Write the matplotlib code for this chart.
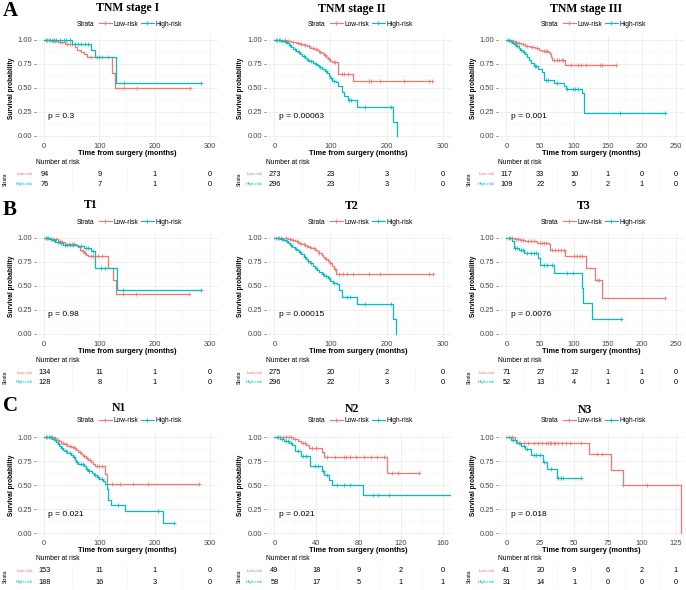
#!/usr/bin/env python3
"""Kaplan-Meier curves (low- vs high-risk) by TNM stage, T and N, 3x3 grid
with number-at-risk tables, redrawn with matplotlib."""
import numpy as np
import matplotlib
matplotlib.use("Agg")
import matplotlib.pyplot as plt
from matplotlib.lines import Line2D
from matplotlib.transforms import blended_transform_factory

plt.rcParams["font.family"] = ["Liberation Sans", "DejaVu Sans"]

W, H = 686, 590
LOW_COL, HIGH_COL = "#F8766D", "#00BFC4"

# ---- data ----------------------------------------------------------------
# A1  TNM stage I
a1_low_t = [0, 12, 25, 38, 55, 60, 66, 72, 78, 123, 129, 264]
a1_low_s = [1.0, 0.99, 0.975, 0.96, 0.93, 0.90, 0.87, 0.85, 0.82, 0.66, 0.50, 0.50]
a1_low_cens = [5, 10, 16, 20, 28, 33, 42, 46, 50, 84, 95, 105, 115, 144, 168, 264]
a1_high_t = [0, 50, 84, 92, 130, 285]
a1_high_s = [1.0, 0.96, 0.90, 0.82, 0.55, 0.55]
a1_high_cens = [3, 8, 14, 18, 22, 28, 35, 40, 46, 56, 62, 66, 74, 80, 100, 144, 285]
a1_breaks = [0, 100, 200, 300]
a1_low_risk = [94, 9, 1, 0]
a1_high_risk = [76, 7, 1, 0]

# A2  TNM stage II
a2_low_t = [0, 15, 22, 30, 38, 45, 52, 58, 64, 70, 76, 80, 84, 88, 92, 96, 100,
            103, 114, 141, 281]
a2_low_s = [1.0, 0.995, 0.985, 0.975, 0.965, 0.955, 0.945, 0.935, 0.92, 0.91,
            0.895, 0.88, 0.86, 0.84, 0.82, 0.80, 0.78, 0.77, 0.65, 0.57, 0.57]
a2_low_cens = [5, 10, 18, 25, 33, 42, 48, 55, 62, 68, 74, 82, 90, 98, 106, 108,
               120, 125, 132, 168, 172, 188, 232, 276, 281]
a2_high_t = [0, 12, 18, 22, 26, 30, 34, 38, 42, 46, 50, 54, 58, 62, 68, 72, 76,
             80, 85, 90, 94, 97, 100, 103, 110, 114, 120, 125, 131, 148, 211, 218]
a2_high_s = [1.0, 0.99, 0.98, 0.965, 0.95, 0.93, 0.91, 0.89, 0.87, 0.855, 0.835,
             0.815, 0.795, 0.78, 0.765, 0.75, 0.735, 0.72, 0.70, 0.68, 0.66, 0.63,
             0.60, 0.575, 0.565, 0.52, 0.46, 0.42, 0.38, 0.30, 0.15, 0.0]
a2_high_cens = [3, 8, 14, 20, 28, 36, 44, 52, 60, 66, 74, 82, 92, 101, 107, 133,
                137, 162, 208]
a2_breaks = [0, 100, 200, 300]
a2_low_risk = [273, 23, 3, 0]
a2_high_risk = [296, 23, 3, 0]

# A3  TNM stage III
a3_low_t = [0, 8, 12, 16, 22, 28, 35, 42, 48, 52, 62, 64, 66, 68, 86, 162]
a3_low_s = [1.0, 0.99, 0.98, 0.97, 0.955, 0.94, 0.93, 0.915, 0.90, 0.885, 0.875,
            0.85, 0.82, 0.79, 0.74, 0.74]
a3_low_cens = [4, 10, 14, 18, 25, 30, 38, 45, 55, 58, 60, 70, 74, 78, 82, 84, 96,
               106, 110, 118, 138, 141, 162]
a3_high_t = [0, 4, 8, 11, 14, 18, 20, 24, 28, 31, 34, 36, 40, 47, 52, 55, 56, 71,
             85, 88, 111, 114, 234]
a3_high_s = [1.0, 0.985, 0.97, 0.955, 0.935, 0.915, 0.895, 0.875, 0.85, 0.82, 0.79,
             0.76, 0.73, 0.70, 0.67, 0.63, 0.58, 0.555, 0.52, 0.49, 0.45, 0.24, 0.24]
a3_high_cens = [3, 6, 12, 16, 22, 26, 42, 44, 58, 62, 74, 90, 98, 102, 106, 168, 234]
a3_breaks = [0, 50, 100, 150, 200, 250]
a3_low_risk = [117, 33, 10, 1, 0, 0]
a3_high_risk = [109, 22, 5, 2, 1, 0]

# B1  T1
b1_low_t = [0, 10, 18, 25, 32, 38, 58, 62, 65, 68, 72, 76, 80, 116, 124, 130, 263]
b1_low_s = [1.0, 0.993, 0.985, 0.97, 0.955, 0.94, 0.925, 0.905, 0.88, 0.86, 0.84,
            0.82, 0.81, 0.69, 0.56, 0.42, 0.42]
b1_low_cens = [5, 12, 16, 22, 28, 45, 50, 54, 70, 74, 84, 88, 98, 105, 143, 167, 263]
b1_high_t = [0, 8, 14, 20, 28, 34, 60, 72, 84, 92, 132, 284]
b1_high_s = [1.0, 0.99, 0.975, 0.96, 0.945, 0.93, 0.915, 0.895, 0.86, 0.69, 0.46, 0.46]
b1_high_cens = [3, 6, 12, 18, 24, 30, 38, 42, 46, 52, 66, 75, 80, 88, 103, 110,
                143, 284]
b1_breaks = [0, 100, 200, 300]
b1_low_risk = [134, 11, 1, 0]
b1_high_risk = [128, 8, 1, 0]

# B2  T2
b2_low_t = [0, 18, 24, 30, 36, 42, 48, 54, 60, 66, 72, 76, 80, 84, 87, 90, 95, 99,
            103, 106, 110, 282]
b2_low_s = [1.0, 0.995, 0.985, 0.975, 0.965, 0.95, 0.935, 0.92, 0.91, 0.895, 0.88,
            0.865, 0.845, 0.82, 0.80, 0.78, 0.76, 0.74, 0.71, 0.68, 0.63, 0.63]
b2_low_cens = [6, 12, 20, 27, 33, 40, 46, 52, 58, 64, 70, 80, 92, 100, 108, 116,
               122, 130, 140, 168, 188, 275, 282]
b2_high_t = [0, 10, 16, 20, 24, 28, 32, 36, 40, 44, 48, 52, 56, 60, 64, 68, 72, 76,
             80, 84, 88, 96, 100, 104, 112, 116, 121, 147, 212, 217]
b2_high_s = [1.0, 0.99, 0.98, 0.965, 0.95, 0.93, 0.91, 0.89, 0.87, 0.85, 0.83,
             0.805, 0.78, 0.76, 0.735, 0.71, 0.69, 0.67, 0.645, 0.62, 0.60, 0.585,
             0.555, 0.535, 0.52, 0.46, 0.39, 0.31, 0.155, 0.0]
b2_high_cens = [3, 8, 14, 22, 30, 38, 46, 54, 60, 66, 74, 86, 92, 97, 107, 130, 134,
                162, 208]
b2_breaks = [0, 100, 200, 300]
b2_low_risk = [275, 20, 2, 0]
b2_high_risk = [296, 22, 3, 0]

# B3  T3
b3_low_t = [0, 12, 20, 28, 45, 63, 65, 87, 117, 131, 141, 234]
b3_low_s = [1.0, 0.99, 0.98, 0.97, 0.95, 0.94, 0.87, 0.81, 0.69, 0.56, 0.37, 0.37]
b3_low_cens = [5, 8, 14, 17, 22, 25, 32, 36, 40, 50, 52, 55, 58, 68, 72, 76, 80, 85,
               100, 104, 108, 112, 134, 137, 234]
b3_high_t = [0, 8, 11, 19, 26, 46, 50, 71, 111, 113, 127, 170]
b3_high_s = [1.0, 0.97, 0.90, 0.87, 0.84, 0.79, 0.72, 0.64, 0.48, 0.32, 0.16, 0.16]
b3_high_cens = [4, 13, 16, 22, 24, 30, 36, 40, 44, 56, 60, 67, 90, 98, 170]
b3_breaks = [0, 50, 100, 150, 200, 250]
b3_low_risk = [71, 27, 12, 1, 1, 0]
b3_high_risk = [52, 13, 4, 1, 0, 0]

# C1  N1
c1_low_t = [0, 18, 22, 26, 30, 36, 42, 48, 54, 58, 62, 66, 70, 76, 80, 85, 88, 92,
            111, 114, 280]
c1_low_s = [1.0, 0.99, 0.975, 0.96, 0.945, 0.93, 0.915, 0.90, 0.89, 0.87, 0.85,
            0.83, 0.81, 0.79, 0.77, 0.745, 0.72, 0.70, 0.62, 0.52, 0.52]
c1_low_cens = [5, 10, 14, 20, 24, 34, 40, 46, 52, 56, 64, 72, 78, 83, 95, 100, 105,
               122, 138, 161, 188, 280]
c1_high_t = [0, 14, 18, 21, 24, 27, 30, 34, 38, 42, 48, 52, 55, 58, 62, 72, 75, 80,
             86, 90, 96, 100, 106, 110, 114, 116, 121, 147, 216, 235]
c1_high_s = [1.0, 0.985, 0.97, 0.95, 0.93, 0.91, 0.89, 0.87, 0.855, 0.84, 0.82,
             0.80, 0.77, 0.745, 0.72, 0.70, 0.67, 0.655, 0.63, 0.61, 0.59, 0.57,
             0.55, 0.52, 0.46, 0.35, 0.30, 0.23, 0.11, 0.11]
c1_high_cens = [3, 8, 12, 17, 26, 32, 40, 46, 54, 60, 66, 70, 78, 82, 92, 98, 104,
                133, 207, 235]
c1_breaks = [0, 100, 200, 300]
c1_low_risk = [153, 11, 1, 0]
c1_high_risk = [188, 16, 3, 0]

# C2  N2
c2_low_t = [0, 18, 22, 25, 30, 33, 45, 47, 107, 138]
c2_low_s = [1.0, 0.98, 0.96, 0.94, 0.92, 0.895, 0.85, 0.795, 0.635, 0.635]
c2_low_cens = [2, 5, 8, 11, 14, 16, 20, 27, 29, 36, 40, 50, 58, 66, 68, 72, 78, 85,
               92, 98, 104, 112, 118, 138]
c2_high_t = [0, 5, 9, 14, 17, 20, 25, 34, 45, 47, 52, 55, 84, 170]
c2_high_s = [1.0, 0.98, 0.96, 0.94, 0.92, 0.86, 0.81, 0.70, 0.655, 0.61, 0.56,
             0.51, 0.40, 0.40]
c2_high_cens = [3, 7, 11, 13, 16, 22, 27, 30, 39, 41, 46, 50, 60, 66, 72, 94, 99, 109]
c2_breaks = [0, 40, 80, 120, 160]
c2_low_risk = [49, 18, 9, 2, 0]
c2_high_risk = [58, 17, 5, 1, 1]

# C3  N3
c3_low_t = [0, 6, 8, 61, 77, 86, 129]
c3_low_s = [1.0, 0.97, 0.945, 0.83, 0.665, 0.50, 0.0]
c3_low_cens = [2, 4, 10, 13, 16, 20, 23, 26, 29, 31, 32, 33, 35, 36, 38, 41, 44, 47,
               55, 67, 71, 86, 104]
c3_high_t = [0, 3, 7, 11, 14, 18, 27, 30, 37, 55]
c3_high_s = [1.0, 0.975, 0.94, 0.91, 0.88, 0.815, 0.745, 0.67, 0.58, 0.58]
c3_high_cens = [5, 9, 13, 15, 20, 22, 25, 28, 33, 38, 40, 42, 55]
c3_breaks = [0, 25, 50, 75, 100, 125]
c3_low_risk = [41, 20, 9, 6, 2, 1]
c3_high_risk = [31, 14, 1, 0, 0, 0]

titles = ["TNM stage I", "TNM stage II", "TNM stage III",
          "T1", "T2", "T3", "N1", "N2", "N3"]
p_texts = ["p = 0.3", "p = 0.00063", "p = 0.001",
           "p = 0.98", "p = 0.00015", "p = 0.0076",
           "p = 0.021", "p = 0.021", "p = 0.018"]

PANELS = [
    (a1_low_t, a1_low_s, a1_low_cens, a1_high_t, a1_high_s, a1_high_cens,
     a1_breaks, a1_low_risk, a1_high_risk),
    (a2_low_t, a2_low_s, a2_low_cens, a2_high_t, a2_high_s, a2_high_cens,
     a2_breaks, a2_low_risk, a2_high_risk),
    (a3_low_t, a3_low_s, a3_low_cens, a3_high_t, a3_high_s, a3_high_cens,
     a3_breaks, a3_low_risk, a3_high_risk),
    (b1_low_t, b1_low_s, b1_low_cens, b1_high_t, b1_high_s, b1_high_cens,
     b1_breaks, b1_low_risk, b1_high_risk),
    (b2_low_t, b2_low_s, b2_low_cens, b2_high_t, b2_high_s, b2_high_cens,
     b2_breaks, b2_low_risk, b2_high_risk),
    (b3_low_t, b3_low_s, b3_low_cens, b3_high_t, b3_high_s, b3_high_cens,
     b3_breaks, b3_low_risk, b3_high_risk),
    (c1_low_t, c1_low_s, c1_low_cens, c1_high_t, c1_high_s, c1_high_cens,
     c1_breaks, c1_low_risk, c1_high_risk),
    (c2_low_t, c2_low_s, c2_low_cens, c2_high_t, c2_high_s, c2_high_cens,
     c2_breaks, c2_low_risk, c2_high_risk),
    (c3_low_t, c3_low_s, c3_low_cens, c3_high_t, c3_high_s, c3_high_cens,
     c3_breaks, c3_low_risk, c3_high_risk),
]

# ---- layout (pixels, top-left origin) -------------------------------------
COL_X = [(36, 218), (266, 451), (498, 684)]
ROW_Y = [(35.2, 140.8), (233.2, 338.8), (432.7, 538.3)]
RISK_Y = [(163, 174, 184), (360, 373, 382), (559, 571, 582)]
LEGEND_Y = [24, 222, 421]
LEGEND_X = [77, 308, 541]
YLABEL_X = [12, 240.5, 473.5]
STRATA_X = [5, 239, 469]
TITLE_POS = [(128, 8), (352, 9), (586, 9), (91, 205), (352, 206), (584, 206),
             (119, 408), (352, 409), (585, 410)]
LETTERS = [("A", 10, 11), ("B", 10, 210), ("C", 10, 406)]


def fx(px):
    return px / W


def fy(py):
    return 1 - py / H


def surv_at(t, s, x):
    idx = np.searchsorted(t, x, side="right") - 1
    return np.asarray(s)[idx]


def main():
    fig = plt.figure(figsize=(W / 100, H / 100), dpi=100)

    for i, (lt, ls, lc, ht, hs, hc, brk, lr, hr) in enumerate(PANELS):
        row, col = divmod(i, 3)
        left, right = COL_X[col]
        top, bottom = ROW_Y[row]
        ax = fig.add_axes([fx(left), fy(bottom), fx(right) - fx(left),
                           fy(top) - fy(bottom)])
        X = brk[-1]
        step = brk[1] - brk[0]
        ax.set_xlim(-0.05 * X, 1.05 * X)
        ax.set_ylim(-0.05, 1.05)
        for sp in ax.spines.values():
            sp.set_visible(False)
        ax.set_xticks(brk)
        ax.set_xticks([b + step / 2 for b in brk[:-1]], minor=True)
        ax.set_yticks([0, 0.25, 0.5, 0.75, 1.0])
        ax.set_yticks([0.125, 0.375, 0.625, 0.875], minor=True)
        ax.set_yticklabels(["0.00", "0.25", "0.50", "0.75", "1.00"])
        ax.grid(which="major", color="#EBEBEB", lw=0.55)
        ax.grid(which="minor", color="#F4F4F4", lw=0.35)
        ax.set_axisbelow(True)
        ax.tick_params(axis="x", which="both", length=0, pad=1.5,
                       labelsize=5.4, labelcolor="#444444")
        ax.tick_params(axis="y", which="major", length=1.6, width=0.5,
                       color="#555555", pad=1.2, labelsize=5.4,
                       labelcolor="#444444")
        ax.tick_params(axis="y", which="minor", length=0)
        ax.set_xlabel("Time from surgery (months)", fontsize=5.3,
                      fontweight="bold", labelpad=0)

        for t, s, c, col_ in ((lt, ls, lc, LOW_COL), (ht, hs, hc, HIGH_COL)):
            ax.step(t, s, where="post", color=col_, lw=0.9)
            ax.plot(c, surv_at(t, s, c), "+", color=col_, ms=3.3, mew=0.55)

        ax.text(0.025 * X, 0.2, p_texts[i], fontsize=6, va="center", ha="left")

        fig.text(fx(YLABEL_X[col]), fy((top + bottom) / 2), "Survival probability",
                 rotation=90, ha="center", va="center", fontsize=4.7,
                 fontweight="bold")
        tx, ty = TITLE_POS[i]
        fig.text(fx(tx), fy(ty), titles[i], ha="center", va="center",
                 fontsize=8.5, fontweight="bold", family="Liberation Serif")

        # legend
        ly = LEGEND_Y[row]
        lx = LEGEND_X[col]
        fig.text(fx(lx), fy(ly), "Strata", ha="left", va="center", fontsize=4.8)
        handles = [Line2D([], [], color=LOW_COL, marker="+", lw=0.8, ms=3.5, mew=0.6),
                   Line2D([], [], color=HIGH_COL, marker="+", lw=0.8, ms=3.5, mew=0.6)]
        fig.legend(handles, ["Low-risk", "High-risk"], loc="center left",
                   bbox_to_anchor=(fx(lx + 22), fy(ly)), ncol=2, frameon=False,
                   fontsize=4.8, handlelength=1.9, handletextpad=0.3,
                   columnspacing=0.4, borderpad=0, borderaxespad=0, numpoints=1)

        # risk table
        ry0, ry1, ry2 = RISK_Y[row]
        tr = blended_transform_factory(ax.transData, fig.transFigure)
        for b in brk[:-1]:
            m = b + step / 2
            ax.plot([m, m], [fy(ry1 - 7), fy(ry2 + 6)], color="#F3F3F3", lw=0.5,
                    transform=tr, clip_on=False, zorder=0)
        fig.text(fx(left), fy(ry0), "Number at risk", ha="left", va="center",
                 fontsize=4.8)
        for b, nl, nh in zip(brk, lr, hr):
            ax.text(b, fy(ry1), str(nl), transform=tr, ha="center", va="center",
                    fontsize=5.3)
            ax.text(b, fy(ry2), str(nh), transform=tr, ha="center", va="center",
                    fontsize=5.3)
        fig.text(fx(left - 3), fy(ry1), "Low-risk", ha="right", va="center",
                 fontsize=3.2, color=LOW_COL)
        fig.text(fx(left - 3), fy(ry2), "High-risk", ha="right", va="center",
                 fontsize=3.2, color=HIGH_COL)
        fig.text(fx(STRATA_X[col]), fy((ry1 + ry2) / 2), "Strata", rotation=90,
                 ha="center", va="center", fontsize=3.6)

    for letter, x, y in LETTERS:
        fig.text(fx(x), fy(y), letter, ha="center", va="center", fontsize=15,
                 fontweight="bold", family="Liberation Serif")

    fig.savefig("out.png", dpi=100)


if __name__ == "__main__":
    main()
